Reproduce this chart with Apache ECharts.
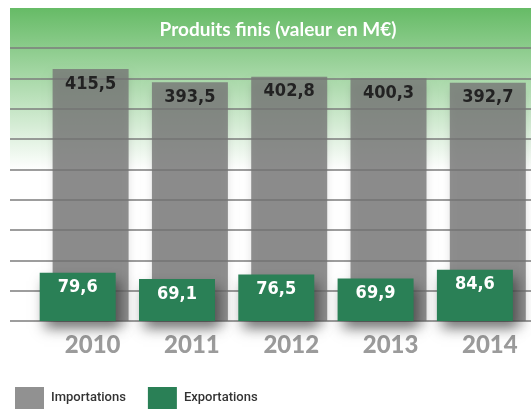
<!DOCTYPE html>
<html>
<head>
<meta charset="utf-8">
<script src="https://cdn.jsdelivr.net/npm/echarts@6/dist/echarts.min.js"></script>
<style>
  html, body { margin: 0; padding: 0; background: #fff; }
  #chart { width: 531px; height: 414px; }
</style>
</head>
<body>
<div id="chart"></div>
<script>
// values (M€)
const years = ['2010', '2011', '2012', '2013', '2014']
const importations = [415.5, 393.5, 402.8, 400.3, 392.7]
const exportations = [79.6, 69.1, 76.5, 69.9, 84.6]

const fmt = v => String(v).replace('.', ',')
const valueFont = '"DejaVu Sans Condensed", "DejaVu Sans", sans-serif'

const chart = echarts.init(document.getElementById('chart'))

chart.setOption({
  animation: false,
  graphic: [
    {
      type: 'rect',
      z: -10,
      shape: { x: 10, y: 8, width: 521, height: 162 },
      style: {
        fill: new echarts.graphic.LinearGradient(0, 0, 0, 1, [
          { offset: 0, color: '#66bb66' },
          { offset: 1, color: '#ffffff' }
        ])
      }
    }
  ],
  title: {
    text: 'Produits finis (valeur en M€)',
    left: 273,
    top: 15,
    textAlign: 'center',
    textStyle: {
      color: '#ffffff',
      fontFamily: 'Lato',
      fontWeight: 'bold',
      fontSize: 19
    }
  },
  legend: {
    data: ['Importations', 'Exportations'],
    left: 10,
    bottom: 0,
    itemWidth: 29,
    itemHeight: 22,
    itemGap: 22,
    icon: 'rect',
    textStyle: {
      fontFamily: 'Roboto',
      fontWeight: 500,
      fontSize: 13,
      color: '#333',
      padding: [0, 0, 12, 2]
    }
  },
  grid: [
    // background grid lines
    { left: 10, right: 0, top: 48, bottom: 93 },
    // bars
    { left: 34.5, right: -3.5, top: 48, bottom: 93 }
  ],
  xAxis: [
    {
      gridIndex: 0,
      type: 'value',
      min: 0,
      max: 1,
      show: false
    },
    {
      gridIndex: 1,
      type: 'category',
      data: years,
      axisLine: { show: false },
      axisTick: { show: false },
      axisLabel: {
        color: '#9b9b9b',
        fontFamily: 'Lato',
        fontWeight: 900,
        fontSize: 24,
        margin: 12,
        padding: [0, 0, 0, 17]
      }
    }
  ],
  yAxis: [
    {
      gridIndex: 0,
      type: 'value',
      min: 0,
      max: 9,
      interval: 1,
      axisLine: { show: false },
      axisTick: { show: false },
      axisLabel: { show: false },
      splitLine: { lineStyle: { color: '#7c7c7c', width: 1.5 } }
    },
    {
      gridIndex: 1,
      type: 'value',
      min: 0,
      max: 450,
      show: false,
      splitLine: { show: false }
    }
  ],
  series: [
    {
      name: 'Exportations',
      type: 'bar',
      xAxisIndex: 1,
      yAxisIndex: 1,
      data: exportations,
      barWidth: 76,
      barGap: '-83%',
      z: 4,
      itemStyle: {
        color: '#2a8056',
        shadowBlur: 12,
        shadowColor: 'rgba(0,0,0,0.45)',
        shadowOffsetX: 4,
        shadowOffsetY: 8
      },
      label: {
        show: true,
        position: 'insideTop',
        distance: 6,
        color: '#ffffff',
        fontFamily: valueFont,
        fontWeight: 'bold',
        fontSize: 18,
        formatter: p => fmt(p.value)
      }
    },
    {
      name: 'Importations',
      type: 'bar',
      xAxisIndex: 1,
      yAxisIndex: 1,
      data: importations,
      barWidth: 76,
      z: 3,
      itemStyle: {
        color: 'rgba(118,118,118,0.8)',
        shadowBlur: 8,
        shadowColor: 'rgba(0,0,0,0.15)',
        shadowOffsetY: 6
      },
      label: {
        show: true,
        position: 'insideTop',
        distance: 6,
        color: '#222222',
        fontFamily: valueFont,
        fontWeight: 'bold',
        fontSize: 18,
        formatter: p => fmt(p.value)
      }
    }
  ]
})
</script>
</body>
</html>
